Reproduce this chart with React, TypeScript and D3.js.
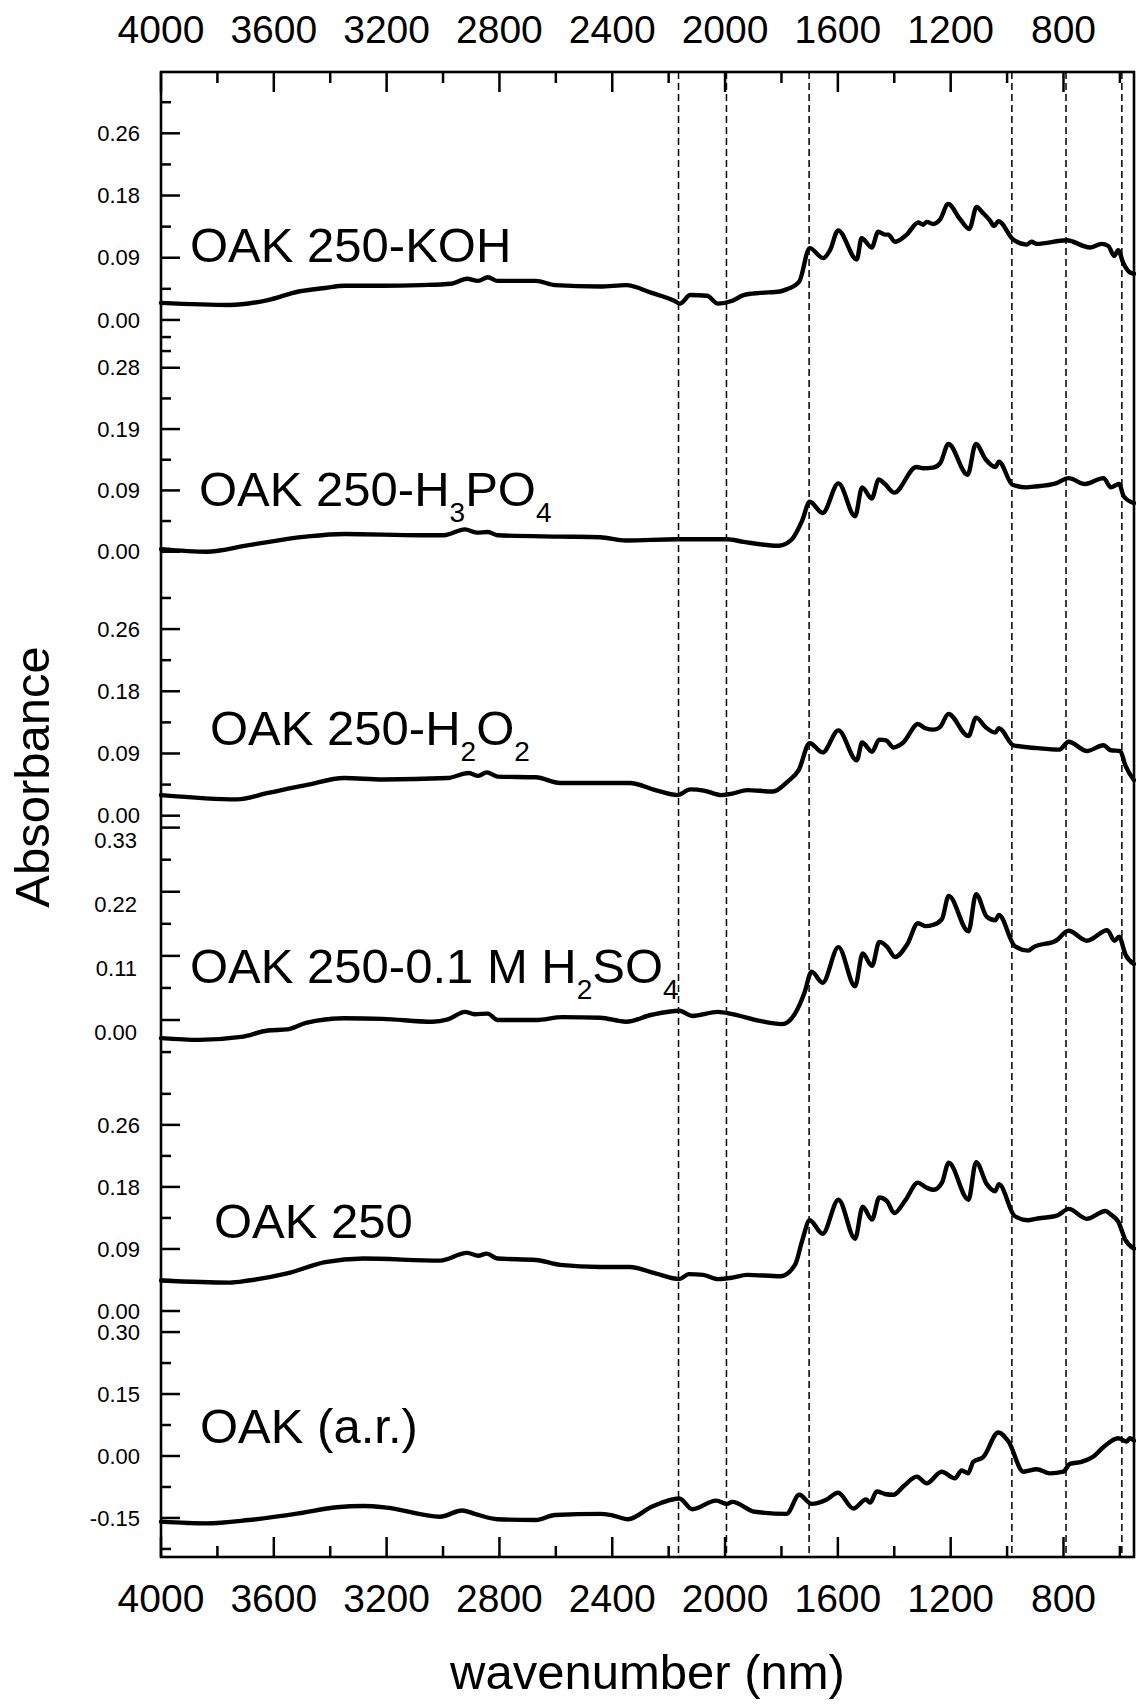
import * as d3 from 'd3';

// wavenumber axis
const xMajorTicks = [4000, 3600, 3200, 2800, 2400, 2000, 1600, 1200, 800];
const xMinorTicks = [3800, 3400, 3000, 2600, 2200, 1800, 1400, 1000, 600];
const bandLines = [2165, 1995, 1702, 983, 791, 593];

// spectra: [wavenumber, absorbance]
const koh: [number, number][] = [
  [4000, 0.024], [3757, 0.021], [3621, 0.028], [3512, 0.040], [3418, 0.045], [3350, 0.048],
  [3214, 0.048], [3078, 0.049], [2970, 0.051], [2915, 0.058], [2876, 0.055], [2841, 0.060],
  [2807, 0.055], [2671, 0.055], [2603, 0.049], [2443, 0.047], [2351, 0.049], [2260, 0.038],
  [2180, 0.027], [2160, 0.023], [2123, 0.035], [2064, 0.034], [2025, 0.023], [1974, 0.027],
  [1934, 0.035], [1876, 0.038], [1806, 0.040], [1782, 0.043], [1737, 0.054], [1700, 0.101],
  [1652, 0.087], [1628, 0.098], [1599, 0.126], [1533, 0.085], [1516, 0.115], [1480, 0.102],
  [1457, 0.124], [1433, 0.120], [1421, 0.120], [1398, 0.110], [1356, 0.120], [1315, 0.137],
  [1297, 0.134], [1285, 0.138], [1262, 0.135], [1238, 0.141], [1209, 0.163], [1167, 0.142],
  [1134, 0.128], [1108, 0.159], [1087, 0.151], [1061, 0.140], [1046, 0.132], [1031, 0.139],
  [978, 0.113], [931, 0.106], [913, 0.110], [895, 0.107], [789, 0.112], [706, 0.102],
  [665, 0.107], [641, 0.104], [620, 0.090], [606, 0.098], [588, 0.080], [565, 0.067], [550, 0.065],
];

const h3po4: [number, number][] = [
  [4000, 0.004], [3838, 0.000], [3689, 0.010], [3486, 0.023], [3351, 0.027], [3078, 0.025],
  [2997, 0.025], [2922, 0.034], [2881, 0.029], [2841, 0.030], [2807, 0.025], [2585, 0.023],
  [2443, 0.022], [2351, 0.017], [2169, 0.019], [1993, 0.019], [1934, 0.015], [1811, 0.009],
  [1765, 0.018], [1726, 0.048], [1700, 0.076], [1654, 0.059], [1598, 0.104], [1539, 0.054],
  [1514, 0.098], [1480, 0.081], [1455, 0.110], [1433, 0.103], [1400, 0.090], [1322, 0.129],
  [1296, 0.127], [1263, 0.128], [1237, 0.135], [1208, 0.164], [1140, 0.117], [1111, 0.164],
  [1075, 0.140], [1042, 0.129], [1029, 0.137], [981, 0.102], [931, 0.098], [906, 0.099],
  [827, 0.104], [782, 0.112], [724, 0.103], [658, 0.112], [632, 0.098], [603, 0.103],
  [586, 0.084], [550, 0.074],
];

const h2o2: [number, number][] = [
  [4000, 0.029], [3730, 0.023], [3621, 0.032], [3486, 0.043], [3350, 0.053], [3214, 0.051],
  [2983, 0.053], [2909, 0.060], [2875, 0.056], [2845, 0.061], [2807, 0.055], [2671, 0.054],
  [2585, 0.046], [2443, 0.046], [2338, 0.046], [2247, 0.036], [2169, 0.029], [2123, 0.037],
  [2071, 0.035], [2013, 0.029], [1974, 0.031], [1922, 0.036], [1830, 0.034], [1778, 0.048],
  [1739, 0.064], [1700, 0.102], [1654, 0.089], [1598, 0.120], [1533, 0.078], [1514, 0.103],
  [1479, 0.090], [1453, 0.107], [1429, 0.106], [1403, 0.096], [1368, 0.103], [1316, 0.129],
  [1290, 0.123], [1260, 0.121], [1237, 0.125], [1208, 0.143], [1137, 0.112], [1110, 0.138],
  [1075, 0.124], [1042, 0.117], [1029, 0.123], [977, 0.099], [892, 0.095], [814, 0.093],
  [782, 0.104], [717, 0.091], [658, 0.099], [632, 0.092], [599, 0.091], [580, 0.070], [550, 0.050],
];

const h2so4: [number, number][] = [
  [4000, -0.031], [3865, -0.034], [3716, -0.029], [3621, -0.018], [3553, -0.016], [3486, -0.005],
  [3350, 0.003], [3214, 0.002], [3038, -0.003], [2983, 0.001], [2922, 0.014], [2888, 0.010],
  [2841, 0.011], [2807, 0.000], [2671, 0.000], [2576, 0.005], [2443, 0.004], [2351, -0.003],
  [2260, 0.009], [2162, 0.016], [2116, 0.007], [2025, 0.014], [1974, 0.010], [1882, -0.001],
  [1798, -0.007], [1752, 0.011], [1719, 0.046], [1693, 0.083], [1654, 0.064], [1598, 0.125],
  [1539, 0.058], [1512, 0.114], [1479, 0.093], [1453, 0.134], [1426, 0.126], [1397, 0.108],
  [1354, 0.130], [1316, 0.166], [1290, 0.161], [1263, 0.163], [1231, 0.173], [1207, 0.213],
  [1137, 0.152], [1110, 0.216], [1072, 0.177], [1042, 0.171], [1029, 0.180], [973, 0.127],
  [925, 0.119], [906, 0.125], [827, 0.136], [782, 0.153], [717, 0.136], [645, 0.154],
  [619, 0.136], [603, 0.143], [580, 0.112], [550, 0.096],
];

const oak250: [number, number][] = [
  [4000, 0.043], [3757, 0.040], [3689, 0.043], [3553, 0.053], [3418, 0.069], [3282, 0.074],
  [3011, 0.071], [2915, 0.082], [2875, 0.078], [2845, 0.081], [2807, 0.074], [2671, 0.072],
  [2585, 0.065], [2443, 0.062], [2338, 0.062], [2247, 0.053], [2162, 0.045], [2129, 0.052],
  [2078, 0.051], [2025, 0.045], [1974, 0.047], [1922, 0.051], [1804, 0.049], [1752, 0.065],
  [1726, 0.100], [1700, 0.128], [1654, 0.109], [1598, 0.157], [1539, 0.102], [1512, 0.147],
  [1479, 0.129], [1453, 0.160], [1426, 0.155], [1400, 0.138], [1361, 0.156], [1316, 0.181],
  [1290, 0.175], [1260, 0.171], [1231, 0.181], [1207, 0.209], [1137, 0.157], [1110, 0.210],
  [1072, 0.179], [1042, 0.169], [1029, 0.179], [973, 0.134], [925, 0.128], [899, 0.130],
  [821, 0.135], [782, 0.144], [717, 0.130], [651, 0.141], [632, 0.136], [606, 0.126],
  [580, 0.100], [550, 0.088],
];

const oakRaw: [number, number][] = [
  [4000, -0.159], [3838, -0.163], [3689, -0.155], [3512, -0.139], [3377, -0.124], [3282, -0.121],
  [3200, -0.125], [3011, -0.147], [2932, -0.132], [2888, -0.140], [2807, -0.153], [2671, -0.155],
  [2603, -0.143], [2443, -0.140], [2403, -0.143], [2344, -0.153], [2260, -0.123], [2162, -0.103],
  [2116, -0.129], [2032, -0.108], [1993, -0.116], [1974, -0.111], [1895, -0.135], [1782, -0.140],
  [1737, -0.094], [1693, -0.116], [1641, -0.106], [1599, -0.089], [1545, -0.127], [1500, -0.105],
  [1486, -0.113], [1462, -0.086], [1433, -0.092], [1403, -0.094], [1368, -0.074], [1320, -0.050],
  [1285, -0.066], [1232, -0.038], [1185, -0.054], [1161, -0.035], [1138, -0.042], [1120, -0.014],
  [1085, -0.003], [1031, 0.057], [995, 0.035], [942, -0.038], [895, -0.032], [848, -0.042],
  [801, -0.038], [777, -0.019], [736, -0.014], [695, -0.002], [659, 0.021], [606, 0.043],
  [576, 0.035], [565, 0.043], [550, 0.037],
];

// per-panel y ticks
const ticksKoh = [0, 0.0875, 0.175, 0.2625];
const labelsKoh = ['0.00', '0.09', '0.18', '0.26'];
const minorKoh = [-0.04375, 0.04375, 0.13125, 0.21875, 0.30625];
const ticksH3po4 = [0, 0.0933, 0.1867, 0.28];
const labelsH3po4 = ['0.00', '0.09', '0.19', '0.28'];
const minorH3po4 = [0.0467, 0.14, 0.2333, 0.3267];
const ticksH2o2 = [0, 0.0875, 0.175, 0.2625];
const labelsH2o2 = ['0.00', '0.09', '0.18', '0.26'];
const minorH2o2 = [0.04375, 0.13125, 0.21875, 0.30625];
const ticksH2so4 = [0, 0.11, 0.22, 0.33];
const labelsH2so4 = ['0.00', '0.11', '0.22', '0.33'];
const minorH2so4 = [-0.055, 0.055, 0.165, 0.275];
const ticksOak250 = [0, 0.0875, 0.175, 0.2625];
const labelsOak250 = ['0.00', '0.09', '0.18', '0.26'];
const minorOak250 = [0.04375, 0.13125, 0.21875, 0.30625];
const ticksRaw = [-0.15, 0, 0.15, 0.3];
const labelsRaw = ['-0.15', '0.00', '0.15', '0.30'];
const minorRaw = [-0.225, -0.075, 0.075, 0.225];

const W = 1136;
const H = 1704;
const left = 161;
const right = 1134;
const top = 72;
const bottom = 1557;
const FONT = '"Liberation Sans", Arial, sans-serif';

type Panel = {
  data: [number, number][];
  domain: [number, number];
  range: [number, number];
  ticks: number[];
  labels: string[];
  minor: number[];
  labelDy?: number;
  labelX?: number;
  name: { x: number; y: number; parts: [string, boolean][] };
};

const panels: Panel[] = [
  {
    data: koh, domain: [-0.05, 0.35], range: [355.5, 71.1],
    ticks: ticksKoh, labels: labelsKoh, minor: minorKoh,
    name: { x: 190, y: 262, parts: [['OAK 250-KOH', false]] },
  },
  {
    data: h3po4, domain: [-0.04, 0.33], range: [578, 334.9],
    ticks: ticksH3po4, labels: labelsH3po4, minor: minorH3po4,
    name: { x: 199, y: 506, parts: [['OAK 250-H', false], ['3', true], ['PO', false], ['4', true]] },
  },
  {
    data: h2o2, domain: [-0.01, 0.32], range: [822.8, 588.2],
    ticks: ticksH2o2, labels: labelsH2o2, minor: minorH2o2,
    name: { x: 210, y: 745, parts: [['OAK 250-H', false], ['2', true], ['O', false], ['2', true]] },
  },
  {
    data: h2so4, domain: [-0.06, 0.335], range: [1055, 824.7],
    ticks: ticksH2so4, labels: labelsH2so4, minor: minorH2so4, labelDy: 12.5, labelX: 137,
    name: { x: 190, y: 983, parts: [['OAK 250-0.1 M H', false], ['2', true], ['SO', false], ['4', true]] },
  },
  {
    data: oak250, domain: [-0.01, 0.31], range: [1318.1, 1091.2],
    ticks: ticksOak250, labels: labelsOak250, minor: minorOak250,
    name: { x: 214, y: 1238, parts: [['OAK 250', false]] },
  },
  {
    data: oakRaw, domain: [-0.245, 0.305], range: [1557.2, 1330],
    ticks: ticksRaw, labels: labelsRaw, minor: minorRaw,
    name: { x: 200, y: 1443, parts: [['OAK (a.r.)', false]] },
  },
];

export default function App() {
  const x = d3.scaleLinear().domain([4000, 550]).range([left, right]);

  return (
    <svg width={W} height={H} style={{ position: 'absolute', left: 0, top: 0, background: '#fff' }}
      fontFamily={FONT}>
      <rect x={0} y={0} width={W} height={H} fill="#fff" />

      {/* band markers */}
      {bandLines.map(b => (
        <line key={`b${b}`} x1={x(b)} x2={x(b)} y1={top} y2={bottom}
          stroke="#000" strokeWidth={1.5} strokeDasharray="7,4" />
      ))}

      {/* spectra */}
      {panels.map((p, i) => {
        const y = d3.scaleLinear().domain(p.domain).range(p.range);
        const line = d3.line<[number, number]>()
          .x(d => x(d[0])).y(d => y(d[1]))
          .curve(d3.curveMonotoneX);
        return (
          <path key={`s${i}`} d={line(p.data) || ''} fill="none" stroke="#000"
            strokeWidth={4.4} strokeLinejoin="round" strokeLinecap="round" />
        );
      })}

      {/* y ticks per panel */}
      {panels.map((p, i) => {
        const y = d3.scaleLinear().domain(p.domain).range(p.range);
        return (
          <g key={`y${i}`}>
            {p.ticks.map(t => (
              <line key={`t${t}`} x1={left} x2={left + 19} y1={y(t)} y2={y(t)} stroke="#000" strokeWidth={2.5} />
            ))}
            {p.minor.map(t => (
              <line key={`m${t}`} x1={left} x2={left + 10} y1={y(t)} y2={y(t)} stroke="#000" strokeWidth={2.5} />
            ))}
            {p.ticks.map((t, j) => (
              <text key={`l${t}`} x={p.labelX ?? 140} y={y(t) + (p.labelDy ?? 0)} dy="0.35em"
                textAnchor="end" fontSize={22} fill="#000">{p.labels[j]}</text>
            ))}
          </g>
        );
      })}

      {/* x ticks top and bottom */}
      {xMajorTicks.map(t => (
        <g key={`x${t}`}>
          <line x1={x(t)} x2={x(t)} y1={top} y2={top + 20} stroke="#000" strokeWidth={2.5} />
          <line x1={x(t)} x2={x(t)} y1={bottom} y2={bottom - 20} stroke="#000" strokeWidth={2.5} />
          <text x={x(t)} y={43} textAnchor="middle" fontSize={39} fill="#000">{t}</text>
          <text x={x(t)} y={1612} textAnchor="middle" fontSize={39} fill="#000">{t}</text>
        </g>
      ))}
      {xMinorTicks.map(t => (
        <g key={`xm${t}`}>
          <line x1={x(t)} x2={x(t)} y1={top} y2={top + 11} stroke="#000" strokeWidth={2.5} />
          <line x1={x(t)} x2={x(t)} y1={bottom} y2={bottom - 11} stroke="#000" strokeWidth={2.5} />
        </g>
      ))}

      {/* frame */}
      <rect x={left} y={top} width={right - left} height={bottom - top}
        fill="none" stroke="#000" strokeWidth={2.6} />

      {/* sample names */}
      {panels.map((p, i) => (
        <text key={`n${i}`} x={p.name.x} y={p.name.y} fontSize={49} fill="#000">
          {p.name.parts.map(([s, sub], j) => {
            const prevSub = j > 0 && p.name.parts[j - 1][1];
            const dy = sub ? 16 : prevSub ? -16 : 0;
            return (
              <tspan key={j} dy={dy} fontSize={sub ? 28 : 49}>{s}</tspan>
            );
          })}
        </text>
      ))}

      {/* axis titles */}
      <text x={(left + right) / 2} y={1689} textAnchor="middle" fontSize={49} fill="#000">
        wavenumber (nm)
      </text>
      <text transform={`translate(49,777) rotate(-90)`} textAnchor="middle" fontSize={49} fill="#000">
        Absorbance
      </text>
    </svg>
  );
}
